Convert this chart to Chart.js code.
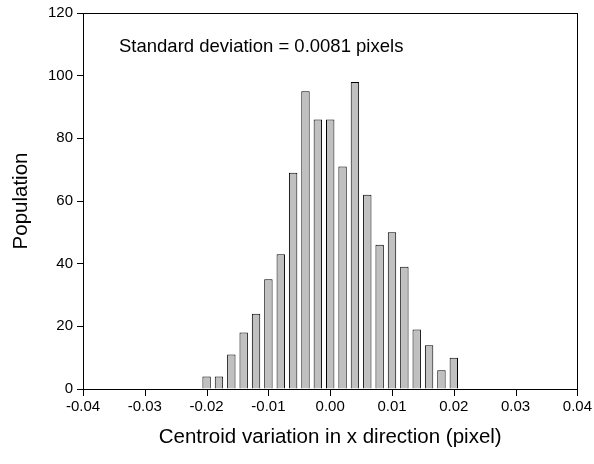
<!DOCTYPE html>
<html>
<head>
<meta charset="utf-8">
<script src="https://cdn.jsdelivr.net/npm/chart.js@4.4.1/dist/chart.umd.min.js"></script>
<style>
  html, body { margin: 0; padding: 0; background: #fff; }
  #wrap { width: 594px; height: 464px; position: relative; }
</style>
</head>
<body>
<div id="wrap"><canvas id="histCanvas"></canvas></div>
<script>
// histogram bins (bin centres, pixel) and counts
const binCenters = [-0.020, -0.018, -0.016, -0.014, -0.012, -0.010, -0.008, -0.006, -0.004, -0.002,
                    0.000, 0.002, 0.004, 0.006, 0.008, 0.010, 0.012, 0.014, 0.016, 0.018, 0.020];
const binCounts = [4, 4, 11, 18, 24, 35, 43, 69, 95, 86, 86, 71, 98, 62, 46, 50, 39, 19, 14, 6, 10];
const xTicks = [-0.04, -0.03, -0.02, -0.01, 0.00, 0.01, 0.02, 0.03, 0.04];
const yTicks = [0, 20, 40, 60, 80, 100, 120];
const stdLabel = 'Standard deviation = 0.0081 pixels';

const FONT = 'Arial, "Liberation Sans", sans-serif';

// closed frame, outward x tick marks, and the std-dev note
const frameAndNote = {
  id: 'frameAndNote',
  afterDraw(chart) {
    const { ctx, chartArea: a, scales } = chart;
    ctx.save();
    ctx.strokeStyle = '#000';
    ctx.lineWidth = 1;
    ctx.strokeRect(Math.round(a.left) + 0.5, Math.round(a.top) + 0.5,
                   Math.round(a.right - a.left), Math.round(a.bottom - a.top));
    ctx.beginPath();
    xTicks.forEach(v => {
      const px = Math.round(scales.x.getPixelForValue(v)) + 0.5;
      ctx.moveTo(px, Math.round(a.bottom));
      ctx.lineTo(px, Math.round(a.bottom) + 7);
    });
    ctx.stroke();
    ctx.fillStyle = '#000';
    ctx.font = '18.5px ' + FONT;
    ctx.textBaseline = 'middle';
    ctx.fillText(stdLabel, a.left + 36, a.top + 34);
    ctx.restore();
  }
};

new Chart(document.getElementById('histCanvas').getContext('2d'), {
  type: 'bar',
  data: {
    datasets: [{
      data: binCenters.map((x, i) => ({ x: x, y: binCounts[i] })),
      backgroundColor: '#c0c0c0',
      borderColor: '#000',
      borderWidth: 1,
      barPercentage: 0.68,
      categoryPercentage: 1.0
    }]
  },
  options: {
    responsive: true,
    maintainAspectRatio: false,
    animation: false,
    layout: { padding: { left: 0, right: 15, top: 13, bottom: 0 } },
    plugins: { legend: { display: false }, tooltip: { enabled: false } },
    scales: {
      x: {
        type: 'linear', min: -0.04, max: 0.04, offset: false,
        afterBuildTicks: s => { s.ticks = xTicks.map(v => ({ value: v })); },
        afterFit: s => { s.height = 75; },
        grid: { display: true, offset: false, drawOnChartArea: false, drawTicks: true, tickLength: 7, color: 'rgba(0,0,0,0)' },
        border: { display: true, color: '#000' },
        ticks: {
          color: '#000', font: { family: FONT, size: 15 }, padding: 2, maxRotation: 0,
          callback: v => v.toFixed(2)
        },
        title: {
          display: true, text: 'Centroid variation in x direction (pixel)',
          color: '#000', font: { family: FONT, size: 20.5 }, padding: { top: 0, bottom: 14 }
        }
      },
      y: {
        min: 0, max: 120,
        afterBuildTicks: s => { s.ticks = yTicks.map(v => ({ value: v })); },
        afterFit: s => { s.width = 83; },
        grid: { display: true, drawOnChartArea: false, drawTicks: true, tickLength: 6, color: '#000' },
        border: { display: true, color: '#000' },
        ticks: { color: '#000', font: { family: FONT, size: 15 }, padding: 4 },
        title: {
          display: true, text: 'Population',
          color: '#000', font: { family: FONT, size: 20.5 }, padding: { top: 9, bottom: 0 }
        }
      }
    }
  },
  plugins: [frameAndNote]
});
</script>
</body>
</html>
